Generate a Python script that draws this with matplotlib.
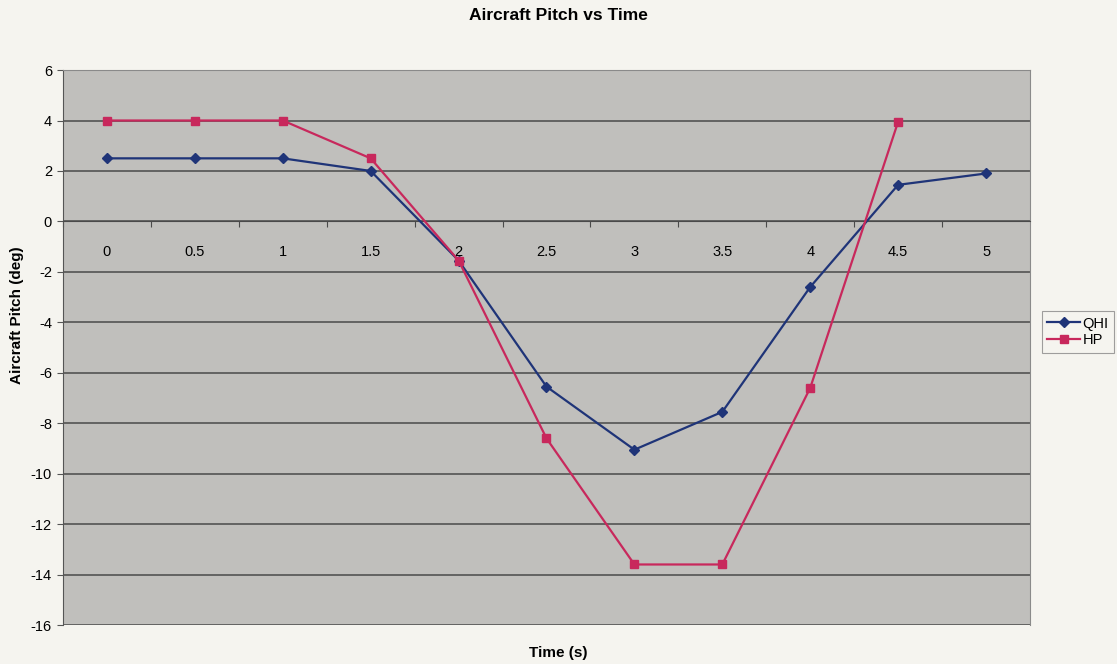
import numpy as np
import matplotlib.pyplot as plt

plt.rcParams['font.family'] = ['Liberation Sans', 'DejaVu Sans']
plt.rcParams['axes.unicode_minus'] = False

# data
time_labels = ['0', '0.5', '1', '1.5', '2', '2.5', '3', '3.5', '4', '4.5', '5']
qhi = [2.5, 2.5, 2.5, 2.0, -1.55, -6.55, -9.05, -7.55, -2.6, 1.45, 1.9]
hp = [4.0, 4.0, 4.0, 2.5, -1.55, -8.6, -13.6, -13.6, -6.6, 3.95, np.nan]

fig = plt.figure(figsize=(11.17, 6.64), dpi=100)
fig.patch.set_facecolor('#f5f4ef')
ax = fig.add_axes([0.0564, 0.0587, 0.8657, 0.8358])
ax.set_facecolor('#c0bfbc')

x = np.arange(len(time_labels))
ax.plot(x, qhi, color='#1f3478', marker='D', markersize=5.5, linewidth=1.6, label='QHI', zorder=3)
ax.plot(x, hp, color='#c8285c', marker='s', markersize=6, linewidth=1.6, label='HP', zorder=3)

ax.set_xlim(-0.5, len(time_labels) - 0.5)
ax.set_ylim(-16, 6)
ax.set_yticks(np.arange(-16, 7, 2))
ax.yaxis.grid(True, color='#4a4a4a', linewidth=1.1)
ax.set_axisbelow(True)

# x axis sits on zero, ticks between categories
ax.spines['bottom'].set_position(('data', 0))
ax.spines['bottom'].set_color('#4a4a4a')
ax.spines['bottom'].set_bounds(-0.5, len(time_labels) - 0.5)
ax.spines['top'].set_color('#8a8a8a')
ax.spines['right'].set_color('#8a8a8a')
ax.spines['left'].set_color('#555555')
ax.set_xticks(np.arange(-0.5, len(time_labels) - 1, 1.0))
ax.set_xticklabels([])
ax.tick_params(axis='x', length=4, color='#4a4a4a')
ax.set_xticks(x, minor=True)
ax.set_xticklabels(time_labels, minor=True)
ax.tick_params(axis='x', which='minor', length=0, pad=17, labelsize=10.5)
ax.tick_params(axis='y', length=4, color='#555555', labelsize=10.5, pad=4)

fig.text(0.5, 0.977, 'Aircraft Pitch vs Time', ha='center', va='center',
         fontsize=12.5, fontweight='bold')
fig.text(0.5, 0.017, 'Time (s)', ha='center', va='center', fontsize=11, fontweight='bold')
fig.text(0.0155, 0.525, 'Aircraft Pitch (deg)', ha='center', va='center', rotation=90,
         fontsize=11, fontweight='bold')

leg = ax.legend(loc='center left', bbox_to_anchor=(0.926, 0.5), bbox_transform=fig.transFigure,
                fontsize=10.5, frameon=True, fancybox=False, handlelength=2.2,
                handletextpad=0.2, borderpad=0.4, labelspacing=0.2)
leg.get_frame().set_edgecolor('#888888')
leg.get_frame().set_facecolor('#f5f4ef')
leg.get_frame().set_linewidth(0.8)

plt.savefig('out.png', dpi=100, facecolor=fig.get_facecolor())
